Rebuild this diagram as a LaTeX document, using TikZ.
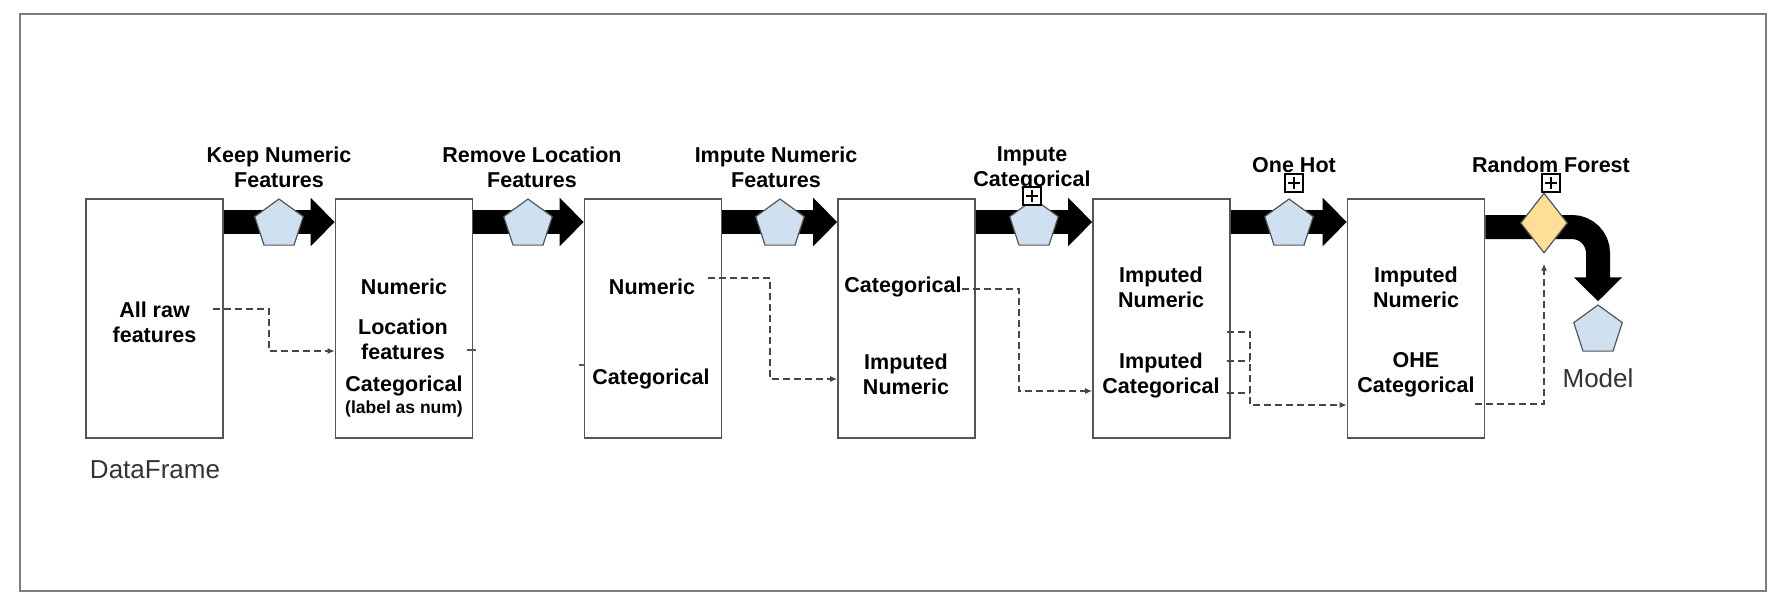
\documentclass[tikz,border=0pt]{standalone}
\usepackage{fontspec}
\setmainfont{Liberation Sans}
\usetikzlibrary{arrows.meta,shapes.geometric}
\definecolor{pentblue}{RGB}{207,224,240}
\definecolor{rfgold}{RGB}{253,223,150}
\definecolor{edgegray}{RGB}{85,85,85}
\definecolor{framegray}{RGB}{125,125,125}
\definecolor{linkgray}{RGB}{70,70,70}
\begin{document}
\begin{tikzpicture}[x=1pt,y=-1pt,
    stage/.style={draw=edgegray,line width=1.6pt,minimum width=137pt,minimum height=239pt,inner sep=0pt},
    fat/.style={line width=24pt,-{Triangle[length=24pt,width=47pt]}},
    pent/.style={regular polygon,regular polygon sides=5,draw=edgegray,line width=1.2pt,fill=pentblue,minimum size=51pt,inner sep=0pt},
    gate/.style={diamond,draw=edgegray,line width=1.2pt,fill=rfgold,minimum width=47pt,minimum height=60pt,inner sep=0pt},
    plusbox/.style={draw,fill=white,line width=1.2pt,minimum size=18pt,inner sep=0pt,
        path picture={\draw[line width=1.2pt] ([yshift=-3pt]path picture bounding box.north) -- ([yshift=3pt]path picture bounding box.south)
            ([xshift=3pt]path picture bounding box.west) -- ([xshift=-3pt]path picture bounding box.east);}},
    txt/.style={font=\fontsize{21.5}{25}\selectfont\bfseries,align=center,inner sep=0pt},
    note/.style={font=\fontsize{17.5}{21}\selectfont\bfseries,inner sep=0pt},
    caption/.style={font=\fontsize{26}{30}\selectfont,text=black!80,inner sep=0pt},
    dashlink/.style={draw=linkgray,line width=1.4pt,dash pattern=on 7pt off 4pt},
    linktip/.style={-{Latex[length=7pt,width=6pt]}}]
    \useasboundingbox (0,0) rectangle (1784,608);
    \draw[framegray,line width=2pt] (20,14) rectangle (1766,591);

    % the data frames
    \node[stage] (df) at (154.5,318.5) {};
    \node[stage] (kept) at (404,318.5) {};
    \node[stage] (noloc) at (653,318.5) {};
    \node[stage] (impnum) at (906.5,318.5) {};
    \node[stage] (impcat) at (1161.5,318.5) {};
    \node[stage] (ohe) at (1416,318.5) {};

    % steps
    \coordinate (k1) at (279,222);
    \coordinate (k2) at (528,222);
    \coordinate (k3) at (780,222);
    \coordinate (k4) at (1034,222);
    \coordinate (k5) at (1289,222);
    \coordinate (rfk) at (1544,227);
    \node[pent] (model) at (1598,330.5) {};
    \draw[fat] (df.east |- k1) -- (kept.west |- k1);
    \draw[fat] (kept.east |- k2) -- (noloc.west |- k2);
    \draw[fat] (noloc.east |- k3) -- (impnum.west |- k3);
    \draw[fat] (impnum.east |- k4) -- (impcat.west |- k4);
    \draw[fat] (impcat.east |- k5) -- (ohe.west |- k5);
    \draw[fat,rounded corners=26pt,shorten >=3pt] (ohe.east |- rfk) -| (model.north);
    \node[pent] (p1) at ([yshift=-2.5pt]k1) {};
    \node[pent] (p2) at ([yshift=-2.5pt]k2) {};
    \node[pent] (p3) at ([yshift=-2.5pt]k3) {};
    \node[pent] (p4) at ([yshift=-2.5pt]k4) {};
    \node[pent] (p5) at ([yshift=-2.5pt]k5) {};
    \node[gate] (rf) at (1544,223) {};

    % step labels
    \node[txt] (l1) at (279,167) {Keep Numeric\\Features};
    \node[txt] (l2) at (532,167) {Remove Location\\Features};
    \node[txt] (l3) at (776,167) {Impute Numeric\\Features};
    \node[txt] (l4) at (1032,169) {Impute\\Categorical};
    \node[txt] (l5) at (1294,165) {One Hot};
    \node[txt] (l6) at (1551,165) {Random Forest};
    \node[plusbox] (x4) at (1032,196) {};
    \node[plusbox] (x5) at (1294,183) {};
    \node[plusbox] (x6) at (1551,183) {};

    % contents
    \node[txt] (t1) at (154.5,322) {All raw\\features};
    \node[txt] (t2a) at (404,287) {Numeric};
    \node[txt] (t2b) at (403,339.5) {Location\\features};
    \node[txt] (t2c) at (404,386) {Categorical};
    \node[note] (t2d) at (404,409) {(label as num)};
    \node[txt] (t3a) at (652,287) {Numeric};
    \node[txt] (t3b) at (651,379) {Categorical};
    \node[txt] (t4a) at (903,287) {Categorical};
    \node[txt] (t4b) at (906,374.5) {Imputed\\Numeric};
    \node[txt] (t5a) at (1161,287.5) {Imputed\\Numeric};
    \node[txt] (t5b) at (1161,375.5) {Imputed\\Categorical};
    \node[txt] (t6a) at (1416,287.5) {Imputed\\Numeric};
    \node[txt] (t6b) at (1416,374.5) {OHE\\Categorical};
    \node[caption] (dfname) at (155,470) {DataFrame};
    \node[caption] (modelname) at (1598,378) {Model};

    % column flows
    \coordinate (c1) at (213,309);
    \coordinate (c1b) at (269,351);
    \coordinate (c2) at (708,278);
    \coordinate (c2b) at (770,379);
    \coordinate (c3) at (962,289);
    \coordinate (c3b) at (1019,391);
    \coordinate (c4) at (1227,332);
    \coordinate (c4b) at (1250,405);
    \coordinate (c5) at (1475,404);
    \draw[dashlink,linktip] (c1) -| (c1b) -- (c1b -| kept.west);
    \draw[dashlink,linktip] (c2) -| (c2b) -- (c2b -| impnum.west);
    \draw[dashlink,linktip] (c3) -| (c3b) -- (c3b -| impcat.west);
    \draw[dashlink,linktip] (c4) -| (c4b) -- (c4b -| ohe.west);
    \draw[dashlink] (1227,361) -- (1250,361);
    \draw[dashlink] (1227,393) -- (1250,393);
    \draw[dashlink,linktip] (c5) -| ([yshift=-10pt]rf.south);
    \draw[edgegray,line width=1.2pt] (467,350) -- (476,350);
    \draw[edgegray,line width=1.2pt] (579,365) -- (585,365);
\end{tikzpicture}
\end{document}
